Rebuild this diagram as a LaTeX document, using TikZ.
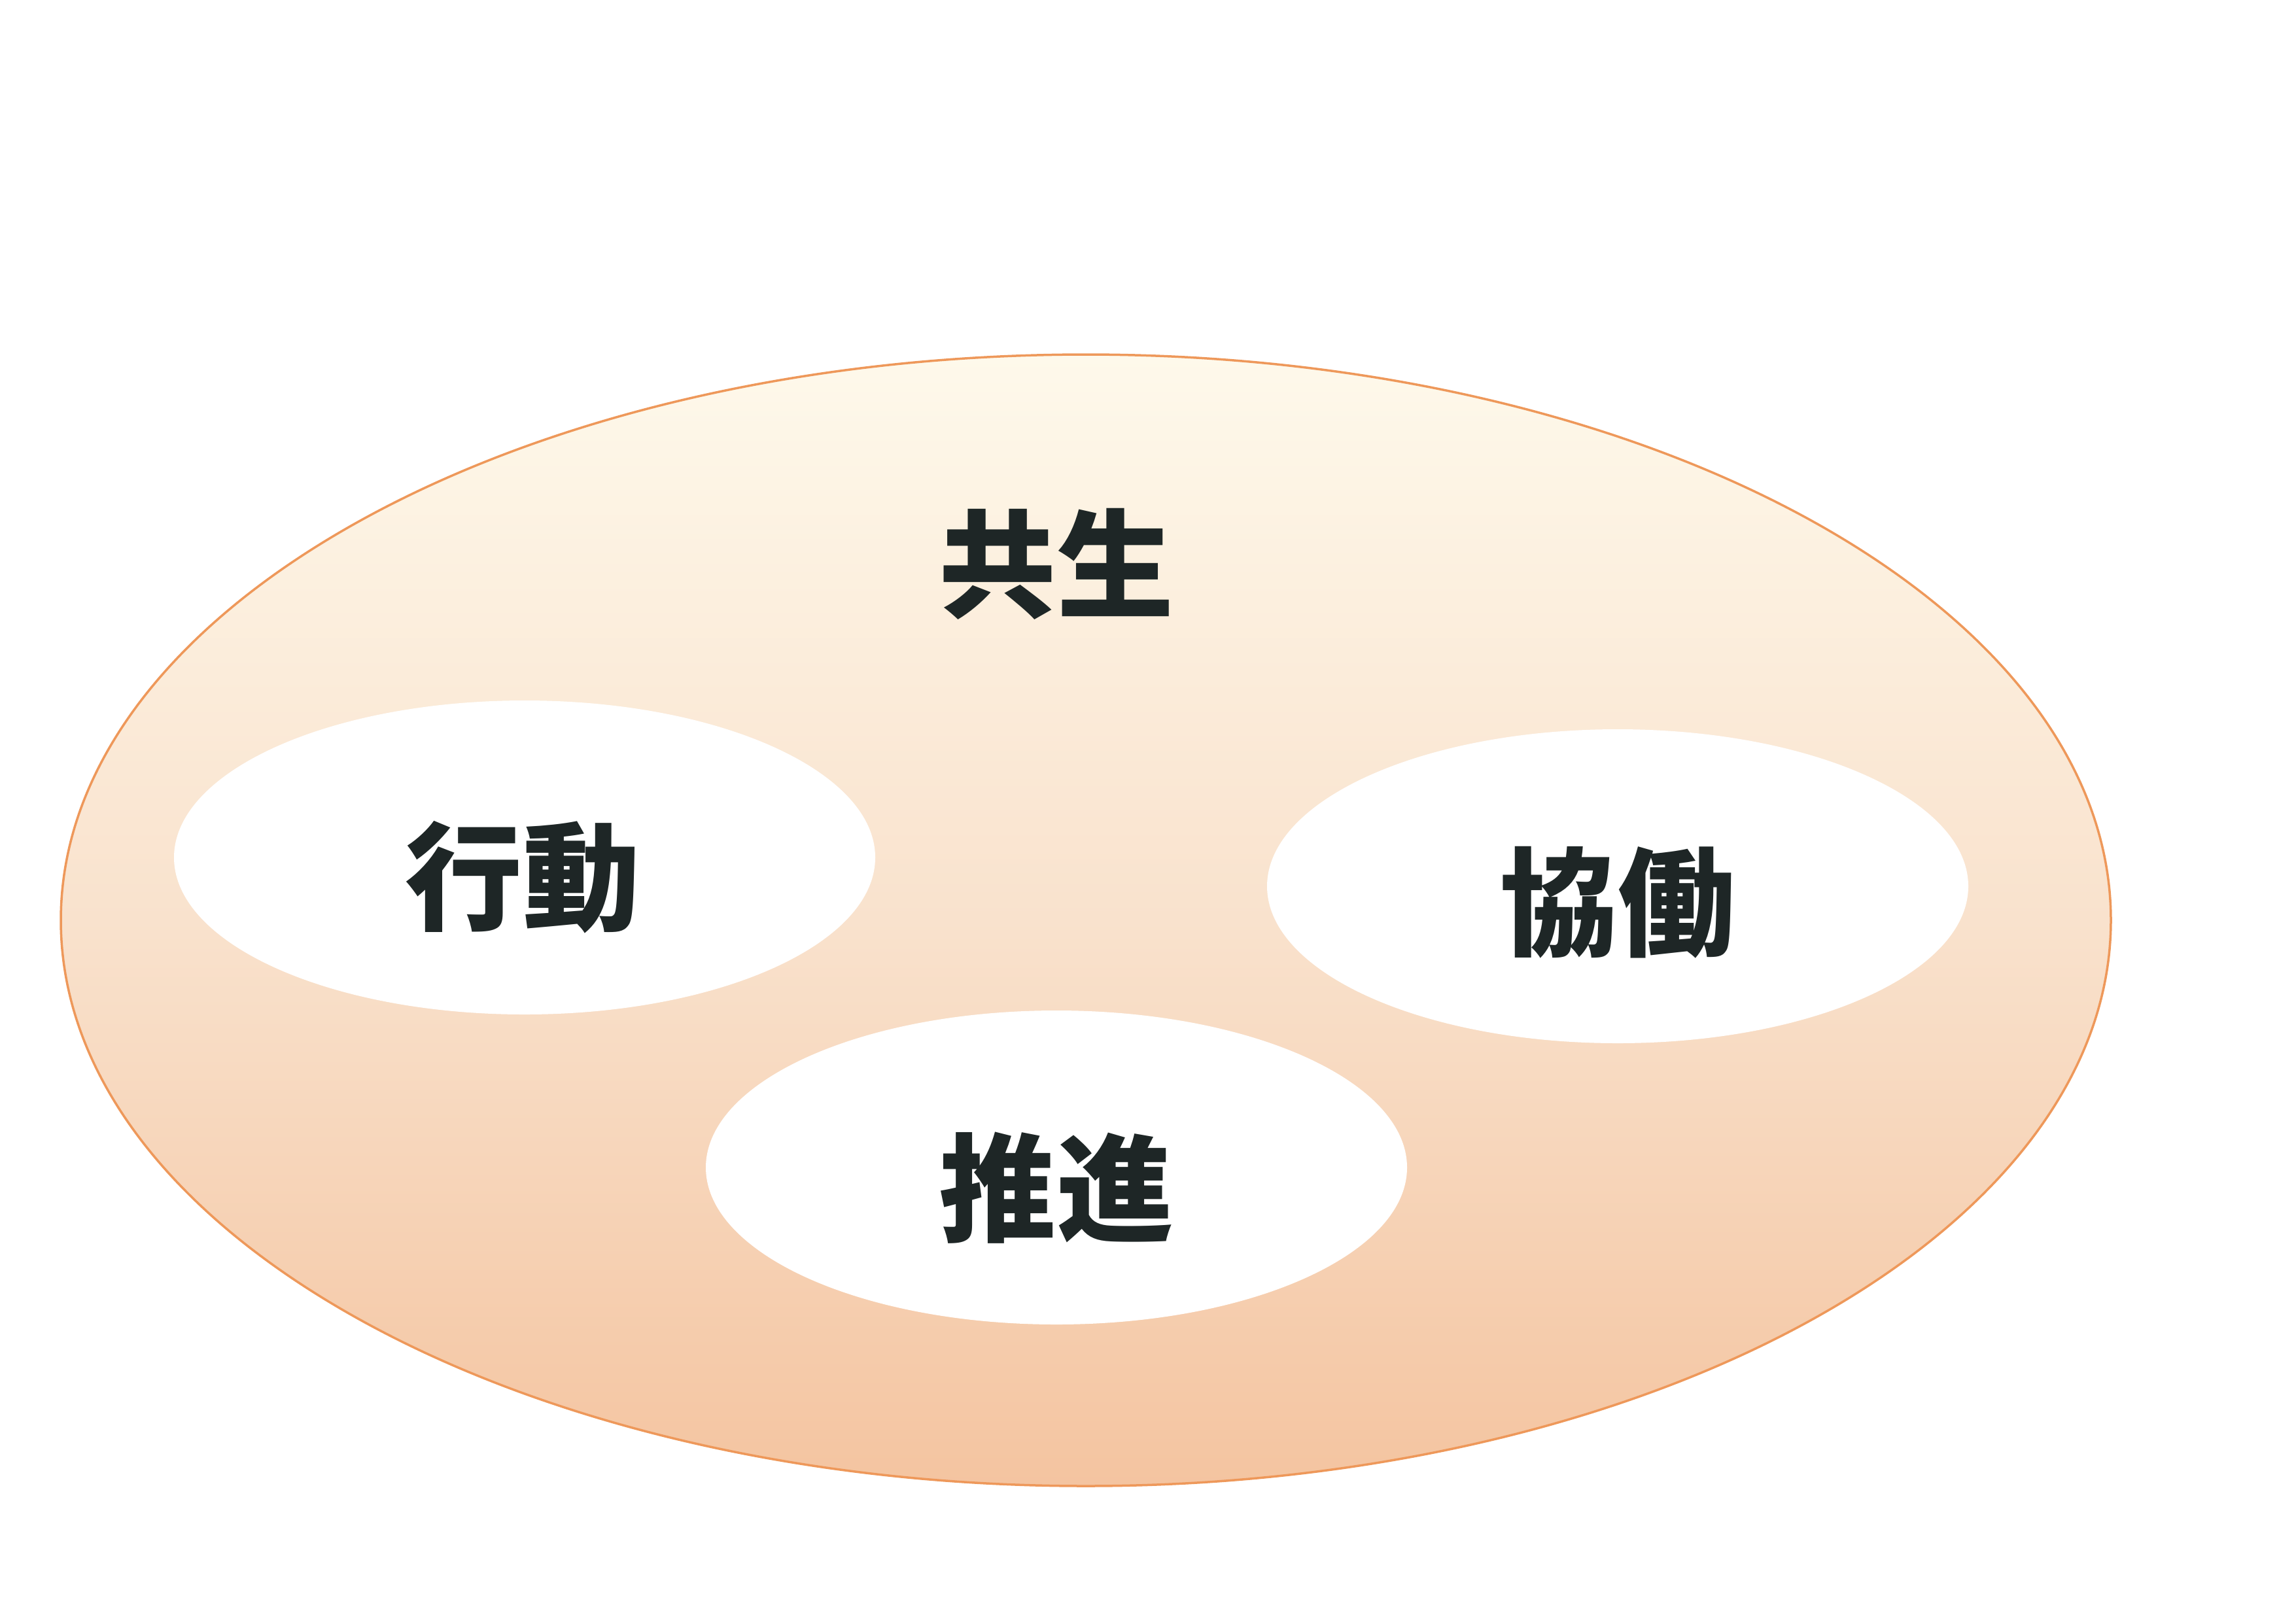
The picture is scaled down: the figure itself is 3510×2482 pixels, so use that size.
\documentclass[tikz,border=0pt]{standalone}
\usepackage{fontspec}
\newfontfamily\cjk{Noto Sans CJK JP Black}
\usetikzlibrary{shapes.geometric}
\definecolor{bordercol}{HTML}{EE985A}
\definecolor{topcol}{HTML}{FEF9EB}
\definecolor{midcol}{HTML}{F9E2CD}
\definecolor{botcol}{HTML}{F4C4A0}
\definecolor{inkcol}{HTML}{1E2626}
\tikzset{
  outer/.style={ellipse, draw=bordercol, line width=0.35mm, inner sep=0pt, outer sep=0pt,
    minimum width=313.4mm, minimum height=173mm,
    top color=topcol, bottom color=botcol, middle color=midcol},
  inner/.style={ellipse, fill=white, draw=none, inner sep=0pt, outer sep=0pt,
    minimum width=107.2mm, minimum height=48mm},
  lbl/.style={font=\cjk\fontsize{51}{58}\selectfont, text=inkcol, inner sep=0pt}
}
\begin{document}
\begin{tikzpicture}[x=0.1mm,y=-0.1mm]
\useasboundingbox (0,0) rectangle (3510,2482);
\fill[white] (0,0) rectangle (3510,2482);
\node[outer] (big) at (1660,1407) {};
\node[inner] (e1) at (802,1311) {};
\node[inner] (e2) at (2473,1355) {};
\node[inner] (e3) at (1615,1785) {};
\node[lbl] (t0) at (1615,862) {共生};
\node[lbl] (t1) at (799,1341) {行動};
\node[lbl] (t2) at (2473,1380) {協働};
\node[lbl] (t3) at (1615,1816) {推進};
\end{tikzpicture}
\end{document}
